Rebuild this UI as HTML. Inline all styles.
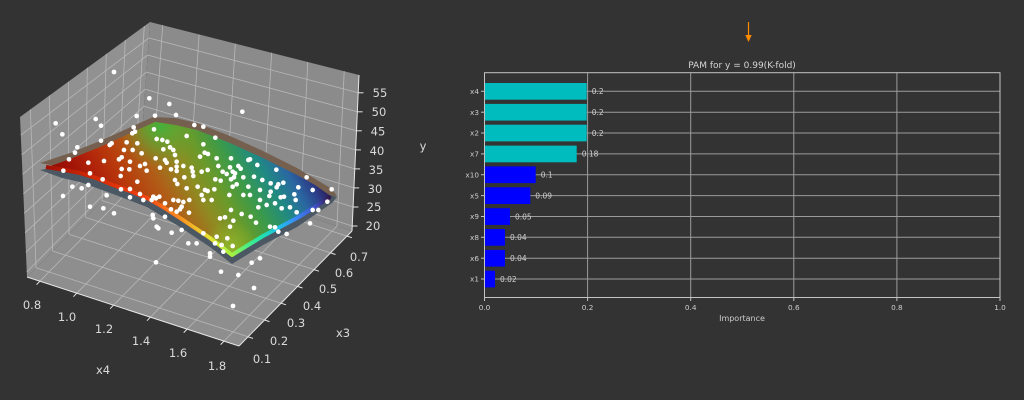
<!DOCTYPE html>
<html><head><meta charset="utf-8"><style>
html,body{margin:0;padding:0;background:#333333;width:1024px;height:400px;overflow:hidden}
svg{display:block}
text{font-family:"DejaVu Sans","Liberation Sans",sans-serif}
</style></head><body>
<svg width="1024" height="400" viewBox="0 0 1024 400" xmlns="http://www.w3.org/2000/svg">
<defs>
<linearGradient id="gTop" gradientUnits="userSpaceOnUse" x1="45" y1="168" x2="249" y2="52">
<stop offset="0" stop-color="#8a0a04"/><stop offset="0.085" stop-color="#9e1206"/><stop offset="0.18" stop-color="#b0220a"/>
<stop offset="0.27" stop-color="#b83a0c"/><stop offset="0.395" stop-color="#b05e18"/><stop offset="0.517" stop-color="#8e8c22"/>
<stop offset="0.602" stop-color="#6a9a2a"/><stop offset="0.702" stop-color="#3a9a4a"/><stop offset="0.802" stop-color="#208a82"/>
<stop offset="0.887" stop-color="#2a68a2"/><stop offset="0.95" stop-color="#2c3e8a"/><stop offset="1" stop-color="#2a1c58"/>
</linearGradient>
<linearGradient id="gLip" gradientUnits="userSpaceOnUse" x1="45" y1="168" x2="249" y2="52">
<stop offset="0" stop-color="#a01004"/><stop offset="0.15" stop-color="#d02806"/><stop offset="0.31" stop-color="#f04010"/>
<stop offset="0.39" stop-color="#fa8a20"/><stop offset="0.46" stop-color="#e8e030"/><stop offset="0.5" stop-color="#b0f03a"/>
<stop offset="0.58" stop-color="#50f080"/><stop offset="0.66" stop-color="#20e0b0"/><stop offset="0.74" stop-color="#20c0e8"/>
<stop offset="0.82" stop-color="#3a8af8"/><stop offset="0.92" stop-color="#4050c8"/><stop offset="1" stop-color="#30123b"/>
</linearGradient>
<radialGradient id="gBack" gradientUnits="userSpaceOnUse" cx="160" cy="126" r="42">
<stop offset="0" stop-color="#3fb33c" stop-opacity="0.95"/><stop offset="0.5" stop-color="#5aa835" stop-opacity="0.55"/><stop offset="1" stop-color="#6aa030" stop-opacity="0"/>
</radialGradient>
<radialGradient id="gFront" gradientUnits="userSpaceOnUse" cx="230" cy="248" r="28">
<stop offset="0" stop-color="#8ec02e" stop-opacity="0.8"/><stop offset="1" stop-color="#8ec02e" stop-opacity="0"/>
</radialGradient>
<clipPath id="faceClip">
<polygon points="45,168 70,159 100,147 133,132 155,122 175,125 197,130 230,143 263,158 297,175 315,185 332,197 315,209 297,220 263,238 245,249 232,257 222,249 210,240 195,230 180,220 163,209 147,200 130,193 113,187 96,180 80,175 62,171"/>
</clipPath>
</defs>
<rect width="1024" height="400" fill="#333333"/>

<!-- 3D panes -->
<polygon points="27,277 20,117 150,22 140,162" fill="#919191"/>
<polygon points="140,162 150,22 359,75 352,231" fill="#8b8b8b"/>
<polygon points="27,277 140,162 352,231 239,346" fill="#8e8e8e"/>

<g stroke="#b8b8b8" stroke-width="0.8" fill="none">
<line x1="36" y1="267.8" x2="30.4" y2="109.4"/><line x1="52.5" y1="251" x2="49.4" y2="95.5"/>
<line x1="69" y1="234.2" x2="68.4" y2="81.7"/><line x1="85.5" y1="217.4" x2="87.3" y2="67.8"/>
<line x1="102" y1="200.6" x2="106.3" y2="53.9"/><line x1="118.5" y1="183.9" x2="125.3" y2="40.1"/>
<line x1="135" y1="167.1" x2="144.3" y2="26.2"/>
<line x1="26.8" y1="271.9" x2="140.3" y2="157.5"/><line x1="25.9" y1="252.4" x2="141.5" y2="140.4"/>
<line x1="25.1" y1="232.8" x2="142.8" y2="123.4"/><line x1="24.2" y1="213.3" x2="144" y2="106.3"/>
<line x1="23.4" y1="193.8" x2="145.2" y2="89.2"/><line x1="22.5" y1="174.3" x2="146.4" y2="72.1"/>
<line x1="21.7" y1="154.8" x2="147.6" y2="55"/><line x1="20.8" y1="135.2" x2="148.9" y2="38"/>
<line x1="152.9" y1="166.2" x2="162.7" y2="25.2"/><line x1="189.8" y1="178.2" x2="199.1" y2="34.5"/>
<line x1="226.5" y1="190.2" x2="235.3" y2="43.6"/><line x1="263.4" y1="202.2" x2="271.6" y2="52.8"/>
<line x1="300.1" y1="214.1" x2="307.8" y2="62"/><line x1="337" y1="226.1" x2="344.2" y2="71.2"/>
<line x1="140.3" y1="157.5" x2="352.2" y2="226"/><line x1="141.5" y1="140.4" x2="353.1" y2="207"/>
<line x1="142.8" y1="123.4" x2="353.9" y2="187.9"/><line x1="144" y1="106.3" x2="354.8" y2="168.9"/>
<line x1="145.2" y1="89.2" x2="355.6" y2="149.9"/><line x1="146.4" y1="72.1" x2="356.5" y2="130.8"/>
<line x1="147.6" y1="55" x2="357.3" y2="111.8"/><line x1="148.9" y1="38" x2="358.2" y2="92.8"/>
<line x1="39.9" y1="281.2" x2="152.9" y2="166.2"/><line x1="76.8" y1="293.2" x2="189.8" y2="178.2"/>
<line x1="113.5" y1="305.2" x2="226.5" y2="190.2"/><line x1="150.4" y1="317.2" x2="263.4" y2="202.2"/>
<line x1="187.1" y1="329.1" x2="300.1" y2="214.1"/><line x1="224" y1="341.1" x2="337" y2="226.1"/>
<line x1="36" y1="267.8" x2="248" y2="336.8"/><line x1="52.5" y1="251" x2="264.5" y2="320"/>
<line x1="69" y1="234.2" x2="281" y2="303.2"/><line x1="85.5" y1="217.4" x2="297.5" y2="286.4"/>
<line x1="102" y1="200.6" x2="314" y2="269.6"/><line x1="118.5" y1="183.9" x2="330.5" y2="252.9"/>
<line x1="135" y1="167.1" x2="347" y2="236.1"/>
</g>

<g stroke="#e6e6e6" stroke-width="1" fill="none">
<line x1="27" y1="277" x2="239" y2="346"/>
<line x1="239" y1="346" x2="352" y2="231"/>
<line x1="352" y1="231" x2="359" y2="75"/>
<line x1="39.9" y1="281.2" x2="36.5" y2="284.7"/><line x1="76.8" y1="293.2" x2="73.4" y2="296.7"/>
<line x1="113.5" y1="305.2" x2="110.1" y2="308.7"/><line x1="150.4" y1="317.2" x2="147" y2="320.7"/>
<line x1="187.1" y1="329.1" x2="183.7" y2="332.6"/><line x1="224" y1="341.1" x2="220.6" y2="344.6"/>
<line x1="248" y1="336.8" x2="253" y2="338.4"/><line x1="264.5" y1="320" x2="269.5" y2="321.6"/>
<line x1="281" y1="303.2" x2="286" y2="304.8"/><line x1="297.5" y1="286.4" x2="302.5" y2="288"/>
<line x1="314" y1="269.6" x2="319" y2="271.2"/><line x1="330.5" y1="252.9" x2="335.5" y2="254.5"/>
<line x1="347" y1="236.1" x2="352" y2="237.7"/>
<line x1="352.2" y1="226" x2="357.5" y2="226"/><line x1="353.1" y1="207" x2="358.4" y2="207"/>
<line x1="353.9" y1="187.9" x2="359.2" y2="187.9"/><line x1="354.8" y1="168.9" x2="360.1" y2="168.9"/>
<line x1="355.6" y1="149.9" x2="360.9" y2="149.9"/><line x1="356.5" y1="130.8" x2="361.8" y2="130.8"/>
<line x1="357.3" y1="111.8" x2="362.6" y2="111.8"/><line x1="358.2" y1="92.8" x2="363.5" y2="92.8"/>
</g>

<!-- surfaces -->
<polygon points="40,163 70,153 100,141 133,126 153,117 175,118 197,123 230,136 263,151 297,168 332,189 337,196 250,200 100,175" fill="#75604f"/>
<polygon points="40,170 62,178 80,182 113,194 147,207 180,227 210,247 232,264 263,245 297,227 332,203 337,197 250,170 100,160" fill="#4b5864"/>
<polygon points="45,168 70,159 100,147 133,132 155,122 175,125 197,130 230,143 263,158 297,175 315,185 332,197 315,209 297,220 263,238 245,249 232,257 222,249 210,240 195,230 180,220 163,209 147,200 130,193 113,187 96,180 80,175 62,171" fill="url(#gTop)"/>
<g clip-path="url(#faceClip)">
<rect x="100" y="80" width="130" height="100" fill="url(#gBack)"/>
<rect x="190" y="210" width="80" height="60" fill="url(#gFront)"/>
</g>
<polyline points="46,167 62,169.5 80,173 96,178 113,185 130,191 147,198 163,207 180,218 195,228 210,238 222,247 232,255 245,247 263,236 297,218 315,207 330,197" fill="none" stroke="url(#gLip)" stroke-width="4" stroke-linejoin="round"/>

<!-- scatter points -->
<g fill="#ffffff">
<circle cx="114" cy="72" r="2.4"/><circle cx="254" cy="288" r="2.4"/><circle cx="233" cy="306" r="2.4"/>
</g>
<g fill="#ffffff" transform="translate(30,90) scale(0.33333)">
<circle cx="358" cy="25" r="7"/><circle cx="418" cy="42" r="7"/><circle cx="637" cy="65" r="7"/><circle cx="438" cy="75" r="7"/><circle cx="375" cy="77" r="7"/><circle cx="320" cy="78" r="7"/><circle cx="197" cy="87" r="7"/><circle cx="77" cy="100" r="7"/><circle cx="213" cy="107" r="7"/><circle cx="493" cy="105" r="7"/><circle cx="520" cy="110" r="7"/><circle cx="311" cy="112" r="7"/><circle cx="97" cy="133" r="7"/><circle cx="372" cy="118" r="7"/><circle cx="307" cy="130" r="7"/><circle cx="315" cy="125" r="7"/><circle cx="470" cy="138" r="7"/><circle cx="556" cy="143" r="7"/><circle cx="213" cy="152" r="7"/><circle cx="290" cy="157" r="7"/><circle cx="322" cy="160" r="7"/><circle cx="380" cy="147" r="7"/><circle cx="397" cy="150" r="7"/><circle cx="412" cy="155" r="7"/><circle cx="245" cy="160" r="7"/><circle cx="239" cy="165" r="7"/><circle cx="520" cy="163" r="7"/><circle cx="142" cy="172" r="7"/><circle cx="282" cy="180" r="7"/><circle cx="308" cy="180" r="7"/><circle cx="335" cy="190" r="7"/><circle cx="420" cy="172" r="7"/><circle cx="430" cy="180" r="7"/><circle cx="400" cy="178" r="7"/><circle cx="524" cy="188" r="7"/><circle cx="534" cy="192" r="7"/><circle cx="135" cy="188" r="7"/><circle cx="117" cy="208" r="7"/><circle cx="175" cy="218" r="7"/><circle cx="222" cy="213" r="7"/><circle cx="267" cy="208" r="7"/><circle cx="275" cy="202" r="7"/><circle cx="300" cy="215" r="7"/><circle cx="345" cy="222" r="7"/><circle cx="377" cy="205" r="7"/><circle cx="405" cy="210" r="7"/><circle cx="410" cy="218" r="7"/><circle cx="435" cy="195" r="7"/><circle cx="440" cy="215" r="7"/><circle cx="510" cy="200" r="7"/><circle cx="560" cy="205" r="7"/><circle cx="603" cy="205" r="7"/><circle cx="655" cy="210" r="7"/><circle cx="660" cy="208" r="7"/><circle cx="565" cy="228" r="7"/><circle cx="600" cy="232" r="7"/><circle cx="625" cy="228" r="7"/><circle cx="632" cy="236" r="7"/><circle cx="608" cy="245" r="7"/><circle cx="682" cy="225" r="7"/><circle cx="739" cy="239" r="7"/><circle cx="100" cy="242" r="7"/><circle cx="180" cy="250" r="7"/><circle cx="275" cy="237" r="7"/><circle cx="298" cy="238" r="7"/><circle cx="330" cy="228" r="7"/><circle cx="390" cy="233" r="7"/><circle cx="350" cy="242" r="7"/><circle cx="423" cy="238" r="7"/><circle cx="440" cy="230" r="7"/><circle cx="460" cy="228" r="7"/><circle cx="485" cy="233" r="7"/><circle cx="515" cy="245" r="7"/><circle cx="488" cy="245" r="7"/><circle cx="533" cy="240" r="7"/><circle cx="578" cy="245" r="7"/><circle cx="590" cy="252" r="7"/><circle cx="615" cy="250" r="7"/><circle cx="556" cy="268" r="7"/><circle cx="572" cy="272" r="7"/><circle cx="603" cy="268" r="7"/><circle cx="612" cy="262" r="7"/><circle cx="640" cy="262" r="7"/><circle cx="672" cy="260" r="7"/><circle cx="697" cy="270" r="7"/><circle cx="722" cy="280" r="7"/><circle cx="745" cy="283" r="7"/><circle cx="760" cy="278" r="7"/><circle cx="805" cy="292" r="7"/><circle cx="830" cy="262" r="7"/><circle cx="848" cy="300" r="7"/><circle cx="905" cy="298" r="7"/><circle cx="127" cy="290" r="7"/><circle cx="155" cy="295" r="7"/><circle cx="175" cy="285" r="7"/><circle cx="218" cy="268" r="7"/><circle cx="272" cy="258" r="7"/><circle cx="322" cy="275" r="7"/><circle cx="435" cy="270" r="7"/><circle cx="442" cy="282" r="7"/><circle cx="463" cy="262" r="7"/><circle cx="440" cy="243" r="7"/><circle cx="470" cy="295" r="7"/><circle cx="490" cy="258" r="7"/><circle cx="503" cy="290" r="7"/><circle cx="525" cy="300" r="7"/><circle cx="533" cy="303" r="7"/><circle cx="553" cy="298" r="7"/><circle cx="608" cy="290" r="7"/><circle cx="620" cy="283" r="7"/><circle cx="655" cy="290" r="7"/><circle cx="690" cy="300" r="7"/><circle cx="722" cy="305" r="7"/><circle cx="718" cy="318" r="7"/><circle cx="752" cy="322" r="7"/><circle cx="740" cy="292" r="7"/><circle cx="762" cy="320" r="7"/><circle cx="793" cy="313" r="7"/><circle cx="797" cy="330" r="7"/><circle cx="99" cy="318" r="7"/><circle cx="230" cy="316" r="7"/><circle cx="273" cy="298" r="7"/><circle cx="300" cy="297" r="7"/><circle cx="300" cy="322" r="7"/><circle cx="330" cy="312" r="7"/><circle cx="370" cy="320" r="7"/><circle cx="365" cy="330" r="7"/><circle cx="378" cy="325" r="7"/><circle cx="388" cy="320" r="7"/><circle cx="340" cy="330" r="7"/><circle cx="405" cy="340" r="7"/><circle cx="430" cy="330" r="7"/><circle cx="445" cy="332" r="7"/><circle cx="460" cy="336" r="7"/><circle cx="478" cy="330" r="7"/><circle cx="450" cy="358" r="7"/><circle cx="423" cy="358" r="7"/><circle cx="440" cy="365" r="7"/><circle cx="455" cy="350" r="7"/><circle cx="477" cy="368" r="7"/><circle cx="515" cy="315" r="7"/><circle cx="520" cy="330" r="7"/><circle cx="545" cy="330" r="7"/><circle cx="598" cy="315" r="7"/><circle cx="640" cy="315" r="7"/><circle cx="660" cy="315" r="7"/><circle cx="690" cy="330" r="7"/><circle cx="685" cy="352" r="7"/><circle cx="710" cy="345" r="7"/><circle cx="735" cy="340" r="7"/><circle cx="755" cy="355" r="7"/><circle cx="780" cy="352" r="7"/><circle cx="800" cy="367" r="7"/><circle cx="848" cy="360" r="7"/><circle cx="865" cy="360" r="7"/><circle cx="892" cy="335" r="7"/><circle cx="180" cy="350" r="7"/><circle cx="220" cy="355" r="7"/><circle cx="252" cy="370" r="7"/><circle cx="368" cy="375" r="7"/><circle cx="370" cy="385" r="7"/><circle cx="405" cy="380" r="7"/><circle cx="380" cy="410" r="7"/><circle cx="385" cy="415" r="7"/><circle cx="455" cy="420" r="7"/><circle cx="475" cy="460" r="7"/><circle cx="500" cy="460" r="7"/><circle cx="520" cy="430" r="7"/><circle cx="555" cy="460" r="7"/><circle cx="570" cy="385" r="7"/><circle cx="585" cy="382" r="7"/><circle cx="603" cy="360" r="7"/><circle cx="610" cy="392" r="7"/><circle cx="600" cy="410" r="7"/><circle cx="635" cy="372" r="7"/><circle cx="662" cy="380" r="7"/><circle cx="678" cy="398" r="7"/><circle cx="720" cy="410" r="7"/><circle cx="735" cy="412" r="7"/><circle cx="745" cy="425" r="7"/><circle cx="770" cy="432" r="7"/><circle cx="840" cy="400" r="7"/><circle cx="425" cy="428" r="7"/><circle cx="560" cy="440" r="7"/><circle cx="592" cy="445" r="7"/><circle cx="608" cy="468" r="7"/><circle cx="575" cy="465" r="7"/><circle cx="580" cy="485" r="7"/><circle cx="540" cy="490" r="7"/><circle cx="540" cy="500" r="7"/><circle cx="378" cy="517" r="7"/><circle cx="665" cy="518" r="7"/><circle cx="690" cy="505" r="7"/><circle cx="573" cy="545" r="7"/><circle cx="625" cy="555" r="7"/>
</g>

<!-- 3D labels -->
<g fill="#dadada" font-size="11.5" text-anchor="middle">
<text x="32" y="309">0.8</text><text x="67" y="321">1.0</text><text x="104" y="333">1.2</text>
<text x="141" y="345">1.4</text><text x="178" y="357">1.6</text><text x="217" y="370">1.8</text>
<text x="103" y="374">x4</text>
<text x="262" y="363">0.1</text><text x="279" y="345">0.2</text><text x="296" y="327">0.3</text>
<text x="312" y="310">0.4</text><text x="328" y="293">0.5</text><text x="344" y="277">0.6</text>
<text x="359" y="261">0.7</text>
<text x="343" y="337">x3</text>
<text x="380" y="97">55</text><text x="379" y="116">50</text><text x="378" y="135.5">45</text>
<text x="377" y="155">40</text><text x="376" y="174">35</text><text x="375" y="193">30</text>
<text x="374" y="211">25</text><text x="373" y="230">20</text>
<text x="423" y="150">y</text>
</g>

<!-- orange arrow -->
<line x1="748.5" y1="22" x2="748.5" y2="36" stroke="#ff8c00" stroke-width="1.2"/>
<polygon points="745.3,35 751.7,35 748.5,42" fill="#ff8c00"/>

<!-- bar chart -->
<text x="742" y="68" fill="#d4d4d4" font-size="9" text-anchor="middle">PAM for y = 0.99(K-fold)</text>
<g stroke="#9c9c9c" stroke-width="1">
<line x1="587.6" y1="72.7" x2="587.6" y2="297.5"/><line x1="690.7" y1="72.7" x2="690.7" y2="297.5"/>
<line x1="793.8" y1="72.7" x2="793.8" y2="297.5"/><line x1="896.9" y1="72.7" x2="896.9" y2="297.5"/>
<line x1="484.5" y1="91.3" x2="1000" y2="91.3"/><line x1="484.5" y1="112.2" x2="1000" y2="112.2"/>
<line x1="484.5" y1="133" x2="1000" y2="133"/><line x1="484.5" y1="153.9" x2="1000" y2="153.9"/>
<line x1="484.5" y1="174.7" x2="1000" y2="174.7"/><line x1="484.5" y1="195.6" x2="1000" y2="195.6"/>
<line x1="484.5" y1="216.5" x2="1000" y2="216.5"/><line x1="484.5" y1="237.3" x2="1000" y2="237.3"/>
<line x1="484.5" y1="258.2" x2="1000" y2="258.2"/><line x1="484.5" y1="279" x2="1000" y2="279"/>
</g>
<g>
<rect x="484.5" y="83" width="102.2" height="16.7" fill="#00bcbf"/>
<rect x="484.5" y="103.9" width="102.2" height="16.7" fill="#00bcbf"/>
<rect x="484.5" y="124.7" width="102.2" height="16.7" fill="#00bcbf"/>
<rect x="484.5" y="145.6" width="92.2" height="16.7" fill="#00bcbf"/>
<rect x="484.5" y="166.4" width="51.2" height="16.7" fill="#0000ff"/>
<rect x="484.5" y="187.3" width="45.8" height="16.7" fill="#0000ff"/>
<rect x="484.5" y="208.2" width="25.5" height="16.7" fill="#0000ff"/>
<rect x="484.5" y="229" width="20.5" height="16.7" fill="#0000ff"/>
<rect x="484.5" y="249.9" width="20.5" height="16.7" fill="#0000ff"/>
<rect x="484.5" y="270.7" width="10.5" height="16.7" fill="#0000ff"/>
</g>
<rect x="484.5" y="72.7" width="515.5" height="224.8" fill="none" stroke="#c4c4c4" stroke-width="1"/>
<g stroke="#c4c4c4" stroke-width="1">
<line x1="481" y1="91.3" x2="484.5" y2="91.3"/><line x1="481" y1="112.2" x2="484.5" y2="112.2"/>
<line x1="481" y1="133" x2="484.5" y2="133"/><line x1="481" y1="153.9" x2="484.5" y2="153.9"/>
<line x1="481" y1="174.7" x2="484.5" y2="174.7"/><line x1="481" y1="195.6" x2="484.5" y2="195.6"/>
<line x1="481" y1="216.5" x2="484.5" y2="216.5"/><line x1="481" y1="237.3" x2="484.5" y2="237.3"/>
<line x1="481" y1="258.2" x2="484.5" y2="258.2"/><line x1="481" y1="279" x2="484.5" y2="279"/>
<line x1="484.5" y1="297.5" x2="484.5" y2="301"/><line x1="587.6" y1="297.5" x2="587.6" y2="301"/>
<line x1="690.7" y1="297.5" x2="690.7" y2="301"/><line x1="793.8" y1="297.5" x2="793.8" y2="301"/>
<line x1="896.9" y1="297.5" x2="896.9" y2="301"/><line x1="1000" y1="297.5" x2="1000" y2="301"/>
</g>
<g fill="#cccccc" font-size="7.3" text-anchor="end">
<text x="479" y="94">x4</text><text x="479" y="114.9">x3</text><text x="479" y="135.7">x2</text>
<text x="479" y="156.6">x7</text><text x="479" y="177.4">x10</text><text x="479" y="198.3">x5</text>
<text x="479" y="219.2">x9</text><text x="479" y="240">x8</text><text x="479" y="260.9">x6</text>
<text x="479" y="281.7">x1</text>
</g>
<g fill="#cccccc" font-size="7.3" text-anchor="middle">
<text x="484.5" y="310">0.0</text><text x="587.6" y="310">0.2</text><text x="690.7" y="310">0.4</text>
<text x="793.8" y="310">0.6</text><text x="896.9" y="310">0.8</text><text x="1000" y="310">1.0</text>
<text x="742" y="321" font-size="8">Importance</text>
</g>
<g fill="#d0d0d0" font-size="7.5">
<text x="591.7" y="94.1">0.2</text><text x="591.7" y="115">0.2</text><text x="591.7" y="135.8">0.2</text>
<text x="581.7" y="156.7">0.18</text><text x="540.7" y="177.5">0.1</text><text x="535.3" y="198.4">0.09</text>
<text x="515" y="219.3">0.05</text><text x="510" y="240.1">0.04</text><text x="510" y="261">0.04</text>
<text x="500" y="281.8">0.02</text>
</g>
</svg>
</body></html>
